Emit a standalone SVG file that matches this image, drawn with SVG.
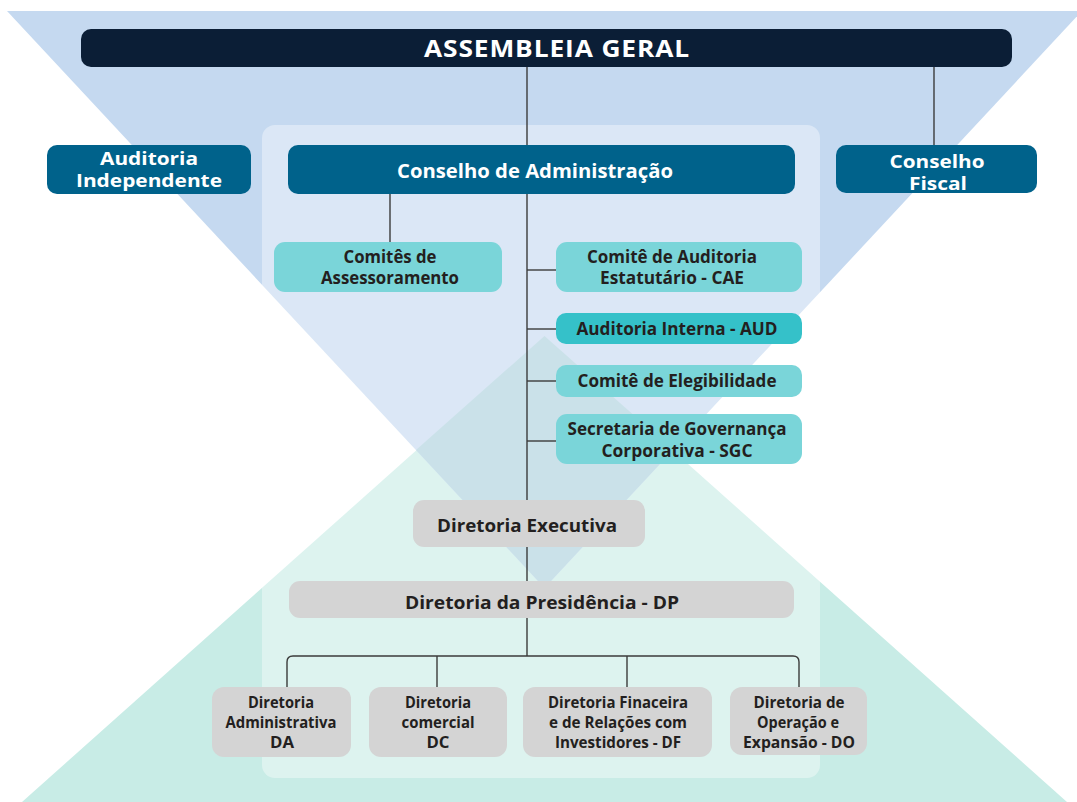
<svg xmlns="http://www.w3.org/2000/svg" width="1077" height="802" viewBox="0 0 1077 802">
<style>
.dark{fill:#0b1e36}
.navy{fill:#00628b}
.teal{fill:#7ad5d9}
.teal2{fill:#35c1c9}
.grey{fill:#d4d4d4}
.wt{font-family:"Open Sans","Noto Sans",sans-serif;font-weight:bold;fill:#ffffff;text-anchor:middle}
.dt{font-family:"Open Sans","Noto Sans",sans-serif;font-weight:bold;fill:#231f20;text-anchor:middle}
.ln{stroke:#3b3b3b;stroke-width:1.4;fill:none}
</style>
<rect width="1077" height="802" fill="#ffffff"/>
<g id="background">
<polygon points="22,802 544.5,336 1067,802" fill="#c8ece6"/>
<polygon points="7,11 1082,11 544.5,588" fill="#c5d9f0"/>
<polygon points="544.5,336 673,450 544.5,588 416,450" fill="#aacfdc"/>
<rect x="262" y="125" width="558" height="653" rx="13" fill="#ffffff" fill-opacity="0.38"/>
</g>
<g id="connectors">
<line class="ln" x1="527" y1="67" x2="527" y2="145" stroke="#555"/>
<line class="ln" x1="934" y1="67" x2="934" y2="145"/>
<line class="ln" x1="390" y1="194" x2="390" y2="242"/>
<line class="ln" x1="527" y1="194" x2="527" y2="500"/>
<line class="ln" x1="527" y1="270" x2="556" y2="270"/>
<line class="ln" x1="527" y1="329" x2="556" y2="329"/>
<line class="ln" x1="527" y1="381" x2="556" y2="381"/>
<line class="ln" x1="527" y1="441" x2="556" y2="441"/>
<line class="ln" x1="527" y1="547" x2="527" y2="581"/>
<line class="ln" x1="527" y1="618" x2="527" y2="656"/>
<path class="ln" d="M287,687 V662 Q287,656 293,656 H793 Q799,656 799,662 V687"/>
<line class="ln" x1="437" y1="656" x2="437" y2="687"/>
<line class="ln" x1="627" y1="656" x2="627" y2="687"/>
</g>
<g id="assembleia">
<rect class="dark" x="81" y="29" width="931" height="38" rx="10"/>
<text class="wt" x="557" y="57" font-size="24" letter-spacing="0.8" textLength="266" lengthAdjust="spacingAndGlyphs">ASSEMBLEIA GERAL</text>
</g>
<g id="auditoria-independente">
<rect class="navy" x="47" y="145" width="204" height="49" rx="10"/>
<text class="wt" font-size="18"><tspan x="149" y="165" textLength="98" lengthAdjust="spacingAndGlyphs">Auditoria</tspan><tspan x="149" y="187" textLength="146" lengthAdjust="spacingAndGlyphs">Independente</tspan></text>
</g>
<g id="conselho-administracao">
<rect class="navy" x="288" y="145" width="507" height="49" rx="10"/>
<text class="wt" x="535" y="178" font-size="20" textLength="276" lengthAdjust="spacingAndGlyphs">Conselho de Administração</text>
</g>
<g id="conselho-fiscal">
<rect class="navy" x="836" y="145" width="201" height="48" rx="10"/>
<text class="wt" font-size="18"><tspan x="937" y="168" textLength="95" lengthAdjust="spacingAndGlyphs">Conselho</tspan><tspan x="938" y="190" textLength="58" lengthAdjust="spacingAndGlyphs">Fiscal</tspan></text>
</g>
<g id="comites-assessoramento">
<rect class="teal" x="274" y="242" width="228" height="50" rx="11"/>
<text class="dt" font-size="17"><tspan x="390" y="263" textLength="93" lengthAdjust="spacingAndGlyphs">Comitês de</tspan><tspan x="390" y="284" textLength="138" lengthAdjust="spacingAndGlyphs">Assessoramento</tspan></text>
</g>
<g id="cae">
<rect class="teal" x="556" y="242" width="246" height="50" rx="11"/>
<text class="dt" font-size="17"><tspan x="672" y="263" textLength="170" lengthAdjust="spacingAndGlyphs">Comitê de Auditoria</tspan><tspan x="672" y="284" textLength="144" lengthAdjust="spacingAndGlyphs">Estatutário - CAE</tspan></text>
</g>
<g id="aud">
<rect class="teal2" x="556" y="313" width="246" height="31" rx="10"/>
<text class="dt" x="677" y="335" font-size="17" textLength="201" lengthAdjust="spacingAndGlyphs">Auditoria Interna - AUD</text>
</g>
<g id="elegibilidade">
<rect class="teal" x="556" y="365" width="246" height="32" rx="10"/>
<text class="dt" x="677" y="387" font-size="17" textLength="199" lengthAdjust="spacingAndGlyphs">Comitê de Elegibilidade</text>
</g>
<g id="sgc">
<rect class="teal" x="556" y="414" width="246" height="50" rx="11"/>
<text class="dt" font-size="17"><tspan x="677" y="435" textLength="219" lengthAdjust="spacingAndGlyphs">Secretaria de Governança</tspan><tspan x="677" y="457" textLength="151" lengthAdjust="spacingAndGlyphs">Corporativa - SGC</tspan></text>
</g>
<g id="diretoria-executiva">
<rect class="grey" x="413" y="500" width="232" height="47" rx="11"/>
<text class="dt" x="527" y="532" font-size="18" textLength="180" lengthAdjust="spacingAndGlyphs">Diretoria Executiva</text>
</g>
<g id="diretoria-presidencia">
<rect class="grey" x="289" y="581" width="505" height="37" rx="11"/>
<text class="dt" x="542" y="609" font-size="18" textLength="274" lengthAdjust="spacingAndGlyphs">Diretoria da Presidência - DP</text>
</g>
<g id="da">
<rect class="grey" x="212" y="687" width="139" height="70" rx="12"/>
<text class="dt" font-size="16"><tspan x="281" y="708" textLength="66" lengthAdjust="spacingAndGlyphs">Diretoria</tspan><tspan x="281" y="728" textLength="111" lengthAdjust="spacingAndGlyphs">Administrativa</tspan><tspan x="282" y="748" textLength="24" lengthAdjust="spacingAndGlyphs">DA</tspan></text>
</g>
<g id="dc">
<rect class="grey" x="369" y="687" width="138" height="70" rx="12"/>
<text class="dt" font-size="16"><tspan x="438" y="708" textLength="66" lengthAdjust="spacingAndGlyphs">Diretoria</tspan><tspan x="438" y="728" textLength="73" lengthAdjust="spacingAndGlyphs">comercial</tspan><tspan x="438" y="748" textLength="23" lengthAdjust="spacingAndGlyphs">DC</tspan></text>
</g>
<g id="df">
<rect class="grey" x="523" y="687" width="189" height="70" rx="12"/>
<text class="dt" font-size="16"><tspan x="618" y="708" textLength="140" lengthAdjust="spacingAndGlyphs">Diretoria Finaceira</tspan><tspan x="618" y="728" textLength="138" lengthAdjust="spacingAndGlyphs">e de Relações com</tspan><tspan x="618" y="748" textLength="126" lengthAdjust="spacingAndGlyphs">Investidores - DF</tspan></text>
</g>
<g id="do">
<rect class="grey" x="730" y="687" width="137" height="68" rx="12"/>
<text class="dt" font-size="16"><tspan x="799" y="708" textLength="91" lengthAdjust="spacingAndGlyphs">Diretoria de</tspan><tspan x="798" y="728" textLength="82" lengthAdjust="spacingAndGlyphs">Operação e</tspan><tspan x="799" y="748" textLength="112" lengthAdjust="spacingAndGlyphs">Expansão - DO</tspan></text>
</g>
</svg>
